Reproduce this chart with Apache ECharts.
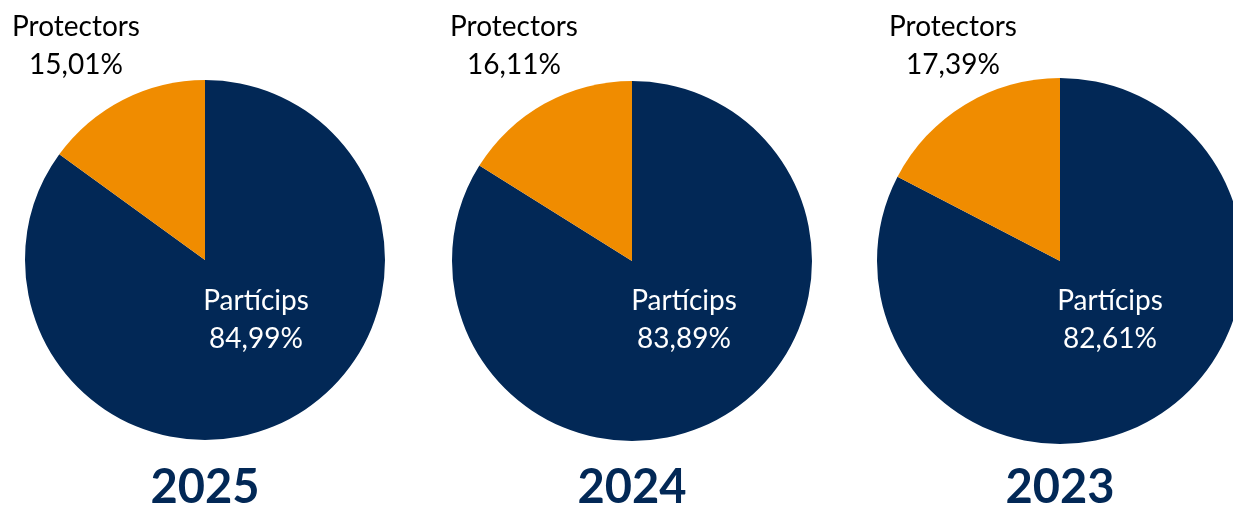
<!DOCTYPE html>
<html><head><meta charset="utf-8">
<script src="https://cdn.jsdelivr.net/npm/echarts@6/dist/echarts.min.js"></script>
<style>html,body{margin:0;padding:0;background:#fff}#c{width:1233px;height:506px}</style>
</head><body><div id="c"></div>
<script>
const years = ['2025', '2024', '2023'];
const categories = ['Partícips', 'Protectors'];
const particips = [84.99, 83.89, 82.61];
const protectors = [15.01, 16.11, 17.39];

const colors = ['#022856', '#F08C00'];
const FONT = 'Lato';
const centers = [[205, 260], [632, 261], [1060, 261]];
const radii = [180, 180, 183];
const protLabelX = [76, 514, 953];
const partLabelX = [256, 684, 1110];

function fmt(v) { return v.toFixed(2).replace('.', ',') + '%'; }

const series = years.map((y, i) => ({
  type: 'pie',
  center: centers[i],
  radius: radii[i],
  startAngle: 90,
  clockwise: true,
  silent: true,
  animation: false,
  z: 1,
  label: { show: false },
  labelLine: { show: false },
  itemStyle: { borderWidth: 0 },
  data: [
    { name: categories[0], value: particips[i], itemStyle: { color: colors[0] } },
    { name: categories[1], value: protectors[i], itemStyle: { color: colors[1] } }
  ]
}));

const graphics = [];
function txt(x, y, text, font, fill) {
  graphics.push({ type: 'text', x: x, y: y, z: 100, zlevel: 1, style: { text: text, font: font, fill: fill, align: 'center', verticalAlign: 'middle' } });
}
years.forEach((y, i) => {
  txt(protLabelX[i], 27, categories[1], '28px ' + FONT, '#000');
  txt(protLabelX[i], 65, fmt(protectors[i]), '28px ' + FONT, '#000');
  txt(partLabelX[i], 301, categories[0], '28px ' + FONT, '#fff');
  txt(partLabelX[i], 339, fmt(particips[i]), '28px ' + FONT, '#fff');
  txt(centers[i][0], 488, y, 'bold 47px ' + FONT, '#022856');
});

const chart = echarts.init(document.getElementById('c'), null, { renderer: 'canvas' });
chart.setOption({ animation: false, series: series, graphic: { elements: graphics } });
</script></body></html>
